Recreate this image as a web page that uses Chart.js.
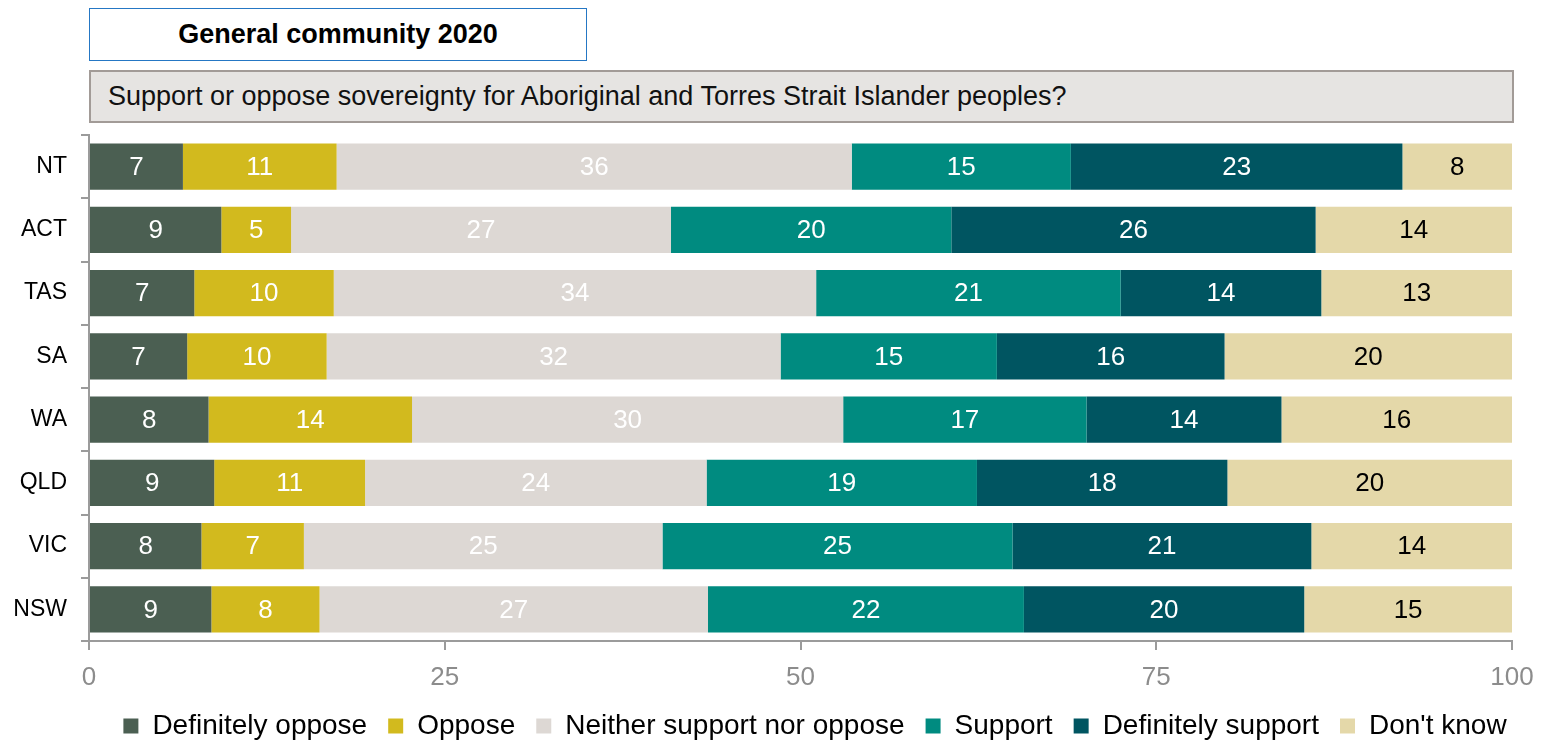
<!DOCTYPE html>
<html>
<head>
<meta charset="utf-8">
<script src="https://cdn.jsdelivr.net/npm/chart.js@4.4.1/dist/chart.umd.min.js"></script>
<style>
    body { margin: 0; background: #fff; overflow: hidden; font-family: "Liberation Sans", Arial, sans-serif; }
    #wrap { position: relative; width: 1547px; height: 741px; }
    #title {
        position: absolute; left: 89px; top: 8px; width: 496px; height: 51px;
        border: 1.5px solid #2577c4; background: #fff;
        font-weight: bold; font-size: 27px; color: #000;
        display: flex; align-items: center; justify-content: center;
    }
    #question {
        position: absolute; left: 89px; top: 70px; width: 1404px; height: 49px;
        border: 2px solid #a29b97; background: #e6e4e2;
        font-size: 27px; color: #111;
        display: flex; align-items: center; padding-left: 17px;
    }
    canvas { position: absolute; left: 0; top: 0; }
</style>
</head>
<body>
<div id="wrap">
    <canvas id="sovChart" width="1547" height="741"></canvas>
    <div id="title">General community 2020</div>
    <div id="question">Support or oppose sovereignty for Aboriginal and Torres Strait Islander peoples?</div>
</div>

<script>
/* ================= DATA ================= */

const states = ['NT', 'ACT', 'TAS', 'SA', 'WA', 'QLD', 'VIC', 'NSW'];

const defOppose  = [6.6, 9.3, 7.4, 6.9, 8.4, 8.8, 7.9, 8.6];
const oppose     = [10.8, 4.9, 9.8, 9.8, 14.3, 10.6, 7.2, 7.6];
const neither    = [36.2, 26.7, 33.9, 31.9, 30.3, 24.0, 25.2, 27.3];
const support    = [15.4, 19.7, 21.4, 15.2, 17.1, 19.0, 24.6, 22.2];
const defSupport = [23.3, 25.6, 14.1, 16.0, 13.7, 17.6, 21.0, 19.7];
const dontKnow   = [7.7, 13.8, 13.4, 20.2, 16.2, 20.0, 14.1, 14.6];

const xTicks = [0, 25, 50, 75, 100];

const FONT = '"Liberation Sans", Arial, sans-serif';

/* ================= VALUE LABELS ================= */

const barLabels = {
    id: 'barLabels',
    afterDatasetsDraw(chart) {
        const ctx = chart.ctx;
        ctx.save();
        ctx.font = '26px ' + FONT;
        ctx.textAlign = 'center';
        ctx.textBaseline = 'middle';
        chart.data.datasets.forEach((ds, i) => {
            const meta = chart.getDatasetMeta(i);
            ctx.fillStyle = ds.labelColor;
            meta.data.forEach((bar, j) => {
                const cx = (bar.x + bar.base) / 2;
                ctx.fillText(Math.round(ds.data[j]), cx, bar.y + 1);
            });
        });
        ctx.restore();
    }
};

/* legend: fixed height, nudged right like the original */
const legendFix = {
    id: 'legendFix',
    beforeLayout(chart) {
        const lg = chart.legend;
        if (lg && !lg._fixed) {
            const fit = lg.fit.bind(lg);
            lg.fit = function() {
                fit();
                this.height = 50;
            };
            lg._fixed = true;
        }
    },
    afterLayout(chart) {
        chart.legend.left += 59;
        chart.legend.right += 59;
    }
};

function series(label, data, color, labelColor) {
    return {
        label: label,
        data: data,
        backgroundColor: color,
        borderWidth: 0,
        labelColor: labelColor,
        barPercentage: 0.73,
        categoryPercentage: 1
    };
}

new Chart(document.getElementById('sovChart'), {

    type: 'bar',

    data: {
        labels: states,
        datasets: [
            series('Definitely oppose', defOppose, '#4b5f52', '#fff'),
            series('Oppose', oppose, '#d2ba1e', '#fff'),
            series('Neither support nor oppose', neither, '#ddd8d4', '#fff'),
            series('Support', support, '#008b80', '#fff'),
            series('Definitely support', defSupport, '#005561', '#fff'),
            series("Don't know", dontKnow, '#e4d8a9', '#000')
        ]
    },

    options: {
        responsive: false,
        animation: false,
        indexAxis: 'y',
        layout: {
            padding: { top: 135, right: 35, left: 0, bottom: 0 }
        },
        plugins: {
            legend: {
                position: 'bottom',
                labels: {
                    boxWidth: 15,
                    boxHeight: 15,
                    padding: 21,
                    color: '#000',
                    font: { family: FONT, size: 28 }
                }
            },
            tooltip: { enabled: false }
        },
        scales: {
            x: {
                stacked: true,
                min: 0,
                max: 100,
                afterBuildTicks(scale) {
                    scale.ticks = xTicks.map(v => ({ value: v }));
                },
                afterFit(scale) {
                    scale.height = 50;
                },
                grid: {
                    drawOnChartArea: false,
                    drawTicks: true,
                    tickLength: 9,
                    color: '#9b9b9b',
                    lineWidth: 2
                },
                border: { color: '#9b9b9b', width: 2 },
                ticks: {
                    color: '#8c8c8c',
                    padding: 12,
                    font: { family: FONT, size: 26 }
                }
            },
            y: {
                stacked: true,
                afterFit(scale) {
                    scale.width = 89;
                },
                grid: {
                    offset: true,
                    drawOnChartArea: false,
                    drawTicks: true,
                    tickLength: 8,
                    color: '#9b9b9b',
                    lineWidth: 2
                },
                border: { color: '#9b9b9b', width: 2 },
                ticks: {
                    color: '#000',
                    padding: 14,
                    font: { family: FONT, size: 23 }
                }
            }
        }
    },

    plugins: [barLabels, legendFix]
});
</script>
</body>
</html>
